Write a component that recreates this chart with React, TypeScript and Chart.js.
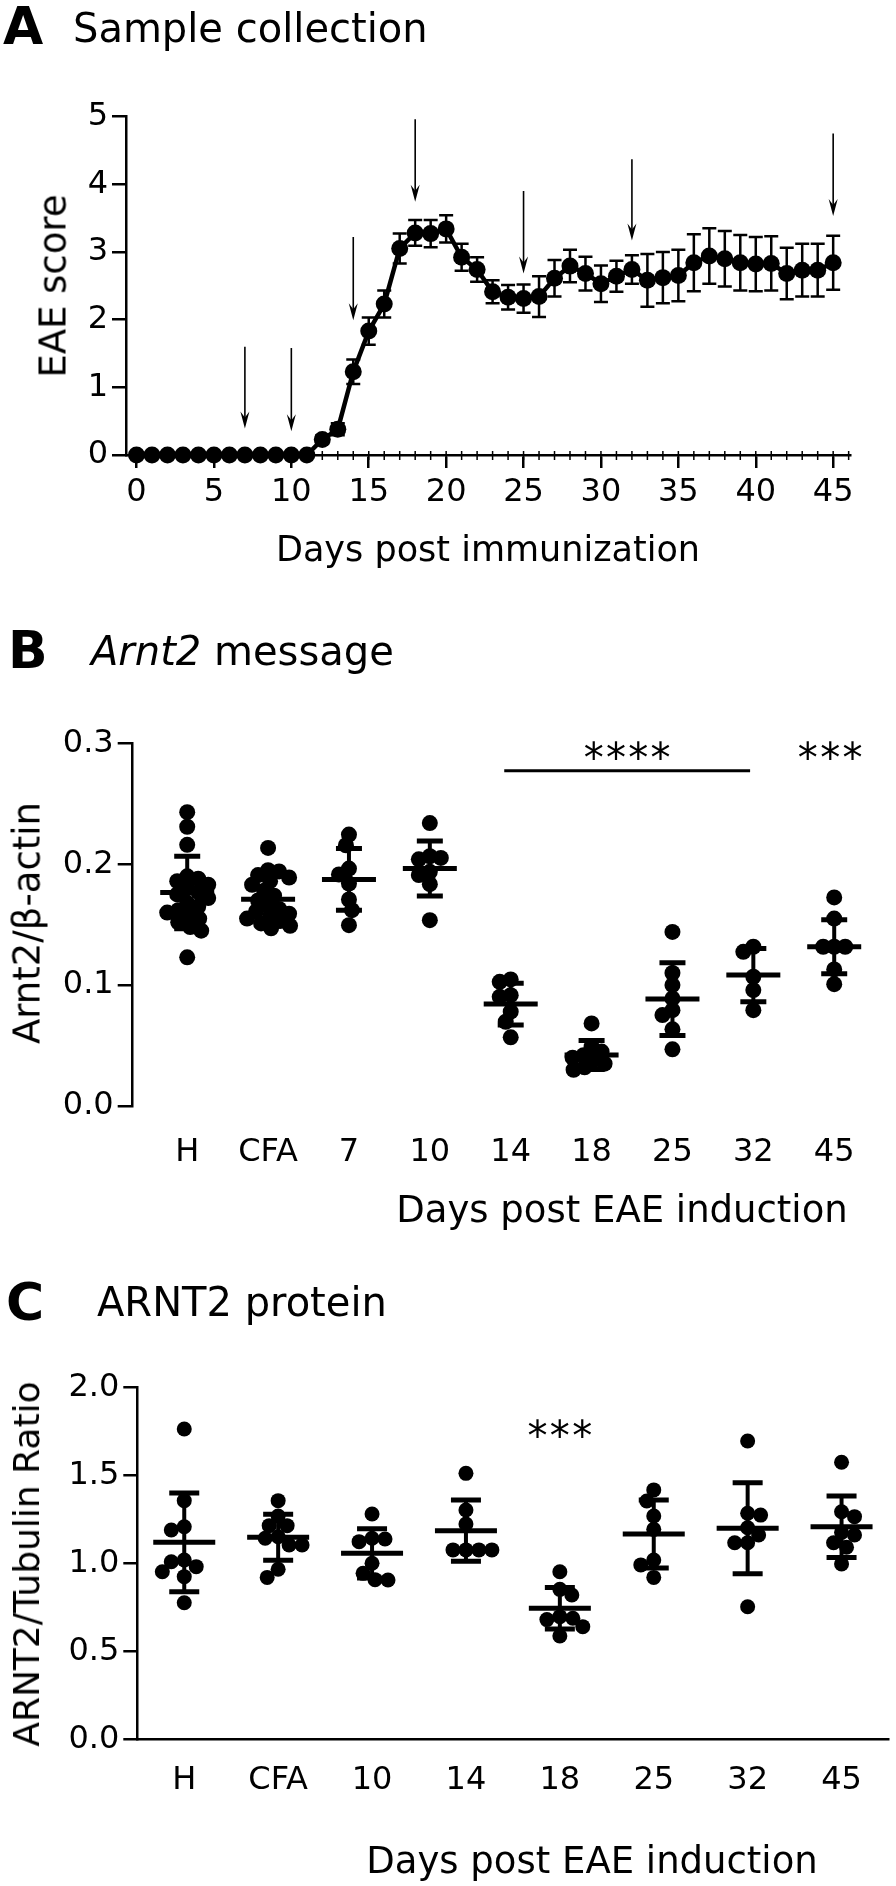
import React, { useEffect, useRef } from 'react';
import { Chart, registerables } from 'chart.js';

Chart.register(...registerables);

const FONT = '"DejaVu Sans", "Liberation Sans", Arial, sans-serif';
Chart.defaults.font.family = FONT;
Chart.defaults.color = '#000';

// ---------------- Panel A: EAE score time course ----------------
const eaeDays = [0, 1, 2, 3, 4, 5, 6, 7, 8, 9, 10, 11, 12, 13, 14, 15, 16, 17, 18, 19, 20, 21, 22, 23, 24, 25, 26, 27, 28, 29, 30, 31, 32, 33, 34, 35, 36, 37, 38, 39, 40, 41, 42, 43, 44, 45];
const eaeMean = [0, 0, 0, 0, 0, 0, 0, 0, 0, 0, 0, 0, 0.23, 0.38, 1.23, 1.83, 2.23, 3.05, 3.28, 3.27, 3.34, 2.92, 2.74, 2.41, 2.33, 2.31, 2.34, 2.61, 2.79, 2.68, 2.53, 2.64, 2.74, 2.58, 2.62, 2.65, 2.84, 2.94, 2.9, 2.84, 2.82, 2.83, 2.68, 2.73, 2.73, 2.84];
const eaeSem = [0, 0, 0, 0, 0, 0, 0, 0, 0, 0, 0, 0, 0.06, 0.09, 0.18, 0.2, 0.2, 0.22, 0.19, 0.2, 0.2, 0.2, 0.18, 0.17, 0.18, 0.21, 0.3, 0.27, 0.24, 0.25, 0.27, 0.23, 0.21, 0.39, 0.38, 0.38, 0.42, 0.41, 0.41, 0.41, 0.4, 0.4, 0.38, 0.39, 0.39, 0.4];
const eaeXTicks = [0, 5, 10, 15, 20, 25, 30, 35, 40, 45];
const eaeYTicks = [0, 1, 2, 3, 4, 5];
const arrowDays = [7, 10, 14, 18, 25, 32, 45];
const arrowTop = [1.6, 1.58, 3.22, 4.96, 3.9, 4.37, 4.75];
const arrowTip = [0.39, 0.35, 1.99, 3.74, 2.68, 3.17, 3.53];

// ---------------- Panel B: Arnt2 message ----------------
const bCategories = ['H', 'CFA', '7', '10', '14', '18', '25', '32', '45'];
const bH = [0.243, 0.231, 0.216, 0.19, 0.188, 0.186, 0.183, 0.18, 0.177, 0.175, 0.172, 0.168, 0.165, 0.162, 0.16, 0.157, 0.155, 0.152, 0.148, 0.145, 0.123];
const bCFA = [0.2135, 0.195, 0.194, 0.191, 0.189, 0.186, 0.183, 0.178, 0.174, 0.17, 0.166, 0.163, 0.161, 0.159, 0.157, 0.155, 0.153, 0.151, 0.149, 0.147];
const b7 = [0.2245, 0.2157, 0.1964, 0.1915, 0.184, 0.1708, 0.162, 0.1496];
const b10 = [0.234, 0.2066, 0.2052, 0.204, 0.191, 0.1937, 0.1835, 0.1537];
const b14 = [0.1027, 0.1047, 0.0903, 0.0917, 0.078, 0.0697, 0.0568];
const b18 = [0.0683, 0.049, 0.045, 0.042, 0.04, 0.038, 0.035, 0.032, 0.03];
const b25 = [0.144, 0.11, 0.1, 0.089, 0.0793, 0.0752, 0.0634, 0.0469];
const b32 = [0.1275, 0.1317, 0.1069, 0.0959, 0.0793];
const b45 = [0.1725, 0.155, 0.1317, 0.1317, 0.1317, 0.113, 0.1008];
const bGroups = [bH, bCFA, b7, b10, b14, b18, b25, b32, b45];
const bMean = [0.1766, 0.171, 0.1874, 0.1964, 0.0843, 0.0421, 0.0884, 0.1083, 0.1317];
const bSD = [0.03, 0.019, 0.0255, 0.0228, 0.0172, 0.012, 0.03, 0.022, 0.0223];
const bYTicks = [0, 0.1, 0.2, 0.3];
const bSigBar = [3.92, 6.96, 0.2773]; // from, to, level
const bSigText = ['****', '***'];
const bSigX = [5.44, 7.95];
const bSigY = [0.296, 0.296];

// ---------------- Panel C: ARNT2 protein ----------------
const cCategories = ['H', 'CFA', '10', '14', '18', '25', '32', '45'];
const cH = [1.763, 1.356, 1.208, 1.189, 1.019, 1.009, 0.981, 0.952, 0.924, 0.776];
const cCFA = [1.356, 1.269, 1.214, 1.214, 1.151, 1.142, 1.104, 1.104, 0.966, 0.92];
const c10 = [1.28, 1.142, 1.138, 1.123, 1.0, 0.943, 0.907, 0.905];
const c14 = [1.511, 1.303, 1.223, 1.076, 1.076, 1.076, 1.076];
const c18 = [0.952, 0.852, 0.82, 0.697, 0.688, 0.68, 0.64, 0.587];
const c25 = [1.417, 1.354, 1.269, 1.193, 1.019, 0.991, 0.92];
const c32 = [1.695, 1.284, 1.274, 1.202, 1.161, 1.117, 1.117, 0.753];
const c45 = [1.574, 1.293, 1.265, 1.176, 1.161, 1.117, 1.091, 0.996];
const cGroups = [cH, cCFA, c10, c14, c18, c25, c32, c45];
const cMean = [1.119, 1.148, 1.057, 1.185, 0.744, 1.166, 1.199, 1.208];
const cSD = [0.28, 0.13, 0.14, 0.174, 0.118, 0.193, 0.258, 0.175];
const cYTicks = [0, 0.5, 1.0, 1.5, 2.0];
const cSigText = ['***'];
const cSigX = [4];
const cSigY = [1.78];

// ---------------- helpers ----------------
function swarmOffsets(values: number[], pxPerUnit: number, pxPerCat: number, minDist: number): number[] {
  const order = values.map((_, i) => i).sort((a, b) => values[b] - values[a]);
  const placed: { x: number; y: number }[] = [];
  const out = new Array(values.length).fill(0);
  order.forEach((i, k) => {
    const py = values[i] * pxPerUnit;
    let best = 0;
    for (let s = 0; s < 200; s++) {
      const cands = s === 0 ? [0] : k % 2 === 0 ? [s, -s] : [-s, s];
      let found = false;
      for (const c of cands) {
        const ok = placed.every((p) => (p.x - c) ** 2 + (p.y - py) ** 2 >= minDist * minDist);
        if (ok) {
          best = c;
          found = true;
          break;
        }
      }
      if (found) break;
    }
    placed.push({ x: best, y: py });
    out[i] = best / pxPerCat;
  });
  return out;
}

function zeroPad(s: any) {
  s.paddingTop = 0;
  s.paddingBottom = 0;
  s.paddingLeft = 0;
  s.paddingRight = 0;
}

function yAxis(min: number, max: number, ticks: number[], fmt: (v: number) => string, width: number, tickLen: number) {
  return {
    type: 'linear',
    position: 'left',
    min,
    max,
    afterBuildTicks: (s: any) => {
      s.ticks = ticks.map((v) => ({ value: v }));
    },
    afterFit: (s: any) => {
      s.width = width;
      zeroPad(s);
    },
    ticks: { callback: (v: any) => fmt(Number(v)), font: { size: 32, family: FONT }, color: '#000', padding: 4 },
    grid: { drawOnChartArea: false, drawTicks: true, tickLength: tickLen, color: '#000', lineWidth: 2.5 },
    border: { display: true, color: '#000', width: 2.5 },
  };
}

function xAxis(min: number, max: number, ticks: number[], fmt: (v: number) => string, height: number, tickLen: number, showBorder: boolean, pad: number) {
  return {
    type: 'linear',
    position: 'bottom',
    min,
    max,
    afterBuildTicks: (s: any) => {
      s.ticks = ticks.map((v) => ({ value: v }));
    },
    afterFit: (s: any) => {
      s.height = height;
      zeroPad(s);
    },
    ticks: { callback: (v: any) => fmt(Number(v)), font: { size: 32, family: FONT }, color: '#000', padding: pad, autoSkip: false, maxRotation: 0, minRotation: 0 },
    grid: { display: tickLen > 0, drawOnChartArea: false, drawTicks: tickLen > 0, tickLength: tickLen, color: '#000', lineWidth: 2.5 },
    border: { display: showBorder, color: '#000', width: 2.5 },
  };
}

function drawStars(ctx: CanvasRenderingContext2D, text: string, cx: number, cy: number) {
  const size = 40;
  const gap = 22.3;
  ctx.font = `${size}px ${FONT}`;
  ctx.textAlign = 'center';
  ctx.textBaseline = 'alphabetic';
  const n = text.length;
  for (let i = 0; i < n; i++) {
    const x = cx + (i - (n - 1) / 2) * gap;
    ctx.fillText(text[i], x, cy + 0.6 * size);
  }
}

function groupPlugin(id: string, means: number[], sds: number[], meanHalf: number, capHalf: number, sigText: string[], sigX: number[], sigY: number[], bar?: number[]) {
  return {
    id,
    afterDatasetsDraw(chart: any) {
      const { ctx, scales } = chart;
      const x = scales.x;
      const y = scales.y;
      ctx.save();
      ctx.strokeStyle = '#000';
      ctx.fillStyle = '#000';
      ctx.lineCap = 'butt';
      means.forEach((m, i) => {
        const px = x.getPixelForValue(i);
        const pm = y.getPixelForValue(m);
        const pt = y.getPixelForValue(m + sds[i]);
        const pb = y.getPixelForValue(m - sds[i]);
        ctx.lineWidth = 4;
        ctx.beginPath();
        ctx.moveTo(px, pt);
        ctx.lineTo(px, pb);
        ctx.stroke();
        ctx.lineWidth = 5;
        ctx.beginPath();
        ctx.moveTo(px - meanHalf, pm);
        ctx.lineTo(px + meanHalf, pm);
        ctx.moveTo(px - capHalf, pt);
        ctx.lineTo(px + capHalf, pt);
        ctx.moveTo(px - capHalf, pb);
        ctx.lineTo(px + capHalf, pb);
        ctx.stroke();
      });
      if (bar) {
        ctx.lineWidth = 3;
        ctx.beginPath();
        const py = y.getPixelForValue(bar[2]);
        ctx.moveTo(x.getPixelForValue(bar[0]), py);
        ctx.lineTo(x.getPixelForValue(bar[1]), py);
        ctx.stroke();
      }
      sigText.forEach((t, i) => {
        drawStars(ctx, t, x.getPixelForValue(sigX[i]), y.getPixelForValue(sigY[i]));
      });
      ctx.restore();
    },
  };
}

const aPlugin = {
  id: 'aExtras',
  beforeDatasetsDraw(chart: any) {
    const { ctx, scales } = chart;
    const x = scales.x;
    const y = scales.y;
    ctx.save();
    ctx.strokeStyle = '#000';
    ctx.lineWidth = 2.5;
    eaeDays.forEach((d, i) => {
      const s = eaeSem[i];
      if (!s) return;
      const px = x.getPixelForValue(d);
      const top = y.getPixelForValue(eaeMean[i] + s);
      const bot = y.getPixelForValue(eaeMean[i] - s);
      ctx.beginPath();
      ctx.moveTo(px, top);
      ctx.lineTo(px, bot);
      ctx.moveTo(px - 7, top);
      ctx.lineTo(px + 7, top);
      ctx.moveTo(px - 7, bot);
      ctx.lineTo(px + 7, bot);
      ctx.stroke();
    });
    ctx.restore();
  },
  afterDraw(chart: any) {
    const { ctx, scales } = chart;
    const x = scales.x;
    const y = scales.y;
    ctx.save();
    ctx.strokeStyle = '#000';
    ctx.fillStyle = '#000';
    // minor day ticks
    const y0 = y.getPixelForValue(0);
    ctx.lineWidth = 1.5;
    for (let d = Math.ceil(x.min); d <= Math.floor(x.max); d++) {
      const px = x.getPixelForValue(d);
      ctx.beginPath();
      ctx.moveTo(px, y0 - 4);
      ctx.lineTo(px, y0 + 5);
      ctx.stroke();
    }
    // sampling arrows
    arrowDays.forEach((d, i) => {
      const px = x.getPixelForValue(d);
      const pTop = y.getPixelForValue(arrowTop[i]);
      const pTip = y.getPixelForValue(arrowTip[i]);
      ctx.lineWidth = 1.6;
      ctx.beginPath();
      ctx.moveTo(px, pTop);
      ctx.lineTo(px, pTip - 6);
      ctx.stroke();
      ctx.beginPath();
      ctx.moveTo(px, pTip);
      ctx.lineTo(px - 4.5, pTip - 17);
      ctx.lineTo(px, pTip - 11);
      ctx.lineTo(px + 4.5, pTip - 17);
      ctx.closePath();
      ctx.fill();
    });
    ctx.restore();
  },
};

function configA() {
  const H = 600;
  const top = 116.5;
  const bottom = 455;
  const left = 126;
  const right = 850.2;
  return {
    type: 'scatter',
    data: {
      datasets: [
        {
          data: eaeDays.map((d, i) => ({ x: d, y: eaeMean[i] })),
          showLine: true,
          borderColor: '#000',
          borderWidth: 4.5,
          pointRadius: 8.5,
          pointHoverRadius: 8.5,
          pointBackgroundColor: '#000',
          pointBorderColor: '#000',
          pointBorderWidth: 0,
          clip: false,
        },
      ],
    },
    options: {
      responsive: false,
      animation: false,
      devicePixelRatio: 1,
      events: [],
      layout: { padding: { top, left: 0, right: 896 - right, bottom: 0 } },
      plugins: { legend: { display: false }, tooltip: { enabled: false } },
      scales: {
        x: xAxis(-0.68, 46.1, eaeXTicks, (v) => String(v), H - bottom, 13, true, 5),
        y: yAxis(0, 5, eaeYTicks, (v) => String(v), left, 14),
      },
    },
    plugins: [aPlugin],
  };
}

function configGroups(opts: {
  H: number; top: number; bottom: number; left: number; pxPerCat: number; xmin: number; xmax: number;
  ymax: number; yTicks: number[]; cats: string[]; groups: number[][]; means: number[]; sds: number[];
  radius: number; minDist: number; meanHalf: number; capHalf: number; tickLen: number; showXBorder: boolean; xPad: number;
  sigText: string[]; sigX: number[]; sigY: number[]; bar?: number[]; id: string;
}) {
  const right = opts.left + (opts.xmax - opts.xmin) * opts.pxPerCat;
  const pxPerUnit = (opts.bottom - opts.top) / opts.ymax;
  const pts: { x: number; y: number }[] = [];
  opts.groups.forEach((vals, g) => {
    const offs = swarmOffsets(vals, pxPerUnit, opts.pxPerCat, opts.minDist);
    vals.forEach((v, i) => pts.push({ x: g + offs[i], y: v }));
  });
  return {
    type: 'scatter',
    data: {
      datasets: [
        {
          data: pts,
          showLine: false,
          pointRadius: opts.radius,
          pointHoverRadius: opts.radius,
          pointBackgroundColor: '#000',
          pointBorderColor: '#000',
          pointBorderWidth: 0,
          clip: false,
        },
      ],
    },
    options: {
      responsive: false,
      animation: false,
      devicePixelRatio: 1,
      events: [],
      layout: { padding: { top: opts.top, left: 0, right: 896 - right, bottom: 0 } },
      plugins: { legend: { display: false }, tooltip: { enabled: false } },
      scales: {
        x: xAxis(opts.xmin, opts.xmax, opts.cats.map((_, i) => i), (v) => opts.cats[Math.round(v)] ?? '', opts.H - opts.bottom, 0, opts.showXBorder, opts.xPad),
        y: yAxis(0, opts.ymax, opts.yTicks, (v) => v.toFixed(1), opts.left, opts.tickLen),
      },
    },
    plugins: [groupPlugin(opts.id, opts.means, opts.sds, opts.meanHalf, opts.capHalf, opts.sigText, opts.sigX, opts.sigY, opts.bar)],
  };
}

function configB() {
  return configGroups({
    id: 'bExtras', H: 600, top: 143.3, bottom: 506, left: 132.7, pxPerCat: 80.875, xmin: -0.674, xmax: 8.6,
    ymax: 0.3, yTicks: bYTicks, cats: bCategories, groups: bGroups, means: bMean, sds: bSD,
    radius: 8, minDist: 11, meanHalf: 27, capHalf: 13, tickLen: 15, showXBorder: false, xPad: 27,
    sigText: bSigText, sigX: bSigX, sigY: bSigY, bar: bSigBar,
  });
}

function configC() {
  return configGroups({
    id: 'cExtras', H: 686, top: 187.3, bottom: 539.3, left: 137.3, pxPerCat: 94.2, xmin: -0.5, xmax: 7.5,
    ymax: 2, yTicks: cYTicks, cats: cCategories, groups: cGroups, means: cMean, sds: cSD,
    radius: 7.5, minDist: 13, meanHalf: 31, capHalf: 15, tickLen: 14, showXBorder: true, xPad: 22,
    sigText: cSigText, sigX: cSigX, sigY: cSigY,
  });
}

function ChartBox({ top, height, config }: { top: number; height: number; config: () => any }) {
  const ref = useRef<HTMLCanvasElement>(null);
  useEffect(() => {
    const chart = new Chart(ref.current as HTMLCanvasElement, config());
    return () => chart.destroy();
  }, []);
  return <canvas ref={ref} width={896} height={height} style={{ position: 'absolute', left: 0, top, width: 896, height }} />;
}

function Txt({ x, base, size, bold, center, children }: { x: number; base: number; size: number; bold?: boolean; center?: boolean; children: React.ReactNode }) {
  return (
    <div
      style={{
        position: 'absolute',
        left: x,
        top: base - 0.846 * size,
        fontSize: size,
        lineHeight: `${size}px`,
        fontWeight: bold ? 'bold' : 'normal',
        whiteSpace: 'nowrap',
        transform: center ? 'translateX(-50%)' : undefined,
        fontFamily: FONT,
        color: '#000',
      }}
    >
      {children}
    </div>
  );
}

function VTxt({ cx, cy, size, children }: { cx: number; cy: number; size: number; children: React.ReactNode }) {
  return (
    <div
      style={{
        position: 'absolute',
        left: cx,
        top: cy,
        fontSize: size,
        lineHeight: `${size}px`,
        whiteSpace: 'nowrap',
        transform: 'translate(-50%, -50%) rotate(-90deg)',
        fontFamily: FONT,
        color: '#000',
      }}
    >
      {children}
    </div>
  );
}

export default function App() {
  useEffect(() => {
    document.body.style.margin = '0';
  }, []);
  return (
    <div style={{ position: 'absolute', left: 0, top: 0, width: 896, height: 1886, background: '#fff', overflow: 'hidden' }}>
      <ChartBox top={0} height={600} config={configA} />
      <ChartBox top={600} height={600} config={configB} />
      <ChartBox top={1200} height={686} config={configC} />

      <Txt x={3} base={44} size={52} bold>A</Txt>
      <Txt x={73} base={42} size={40}>Sample collection</Txt>
      <VTxt cx={53} cy={286} size={37}>EAE score</VTxt>
      <Txt x={488} base={562} size={35} center>Days post immunization</Txt>

      <Txt x={8} base={668} size={52} bold>B</Txt>
      <Txt x={91} base={665} size={40}><i>Arnt2</i> message</Txt>
      <VTxt cx={27} cy={923} size={37}>Arnt2/β-actin</VTxt>
      <Txt x={622} base={1222} size={37} center>Days post EAE induction</Txt>

      <Txt x={6} base={1320} size={52} bold>C</Txt>
      <Txt x={97} base={1316} size={40}>ARNT2 protein</Txt>
      <VTxt cx={27} cy={1564} size={36}>ARNT2/Tubulin Ratio</VTxt>
      <Txt x={592} base={1873} size={37} center>Days post EAE induction</Txt>
    </div>
  );
}
